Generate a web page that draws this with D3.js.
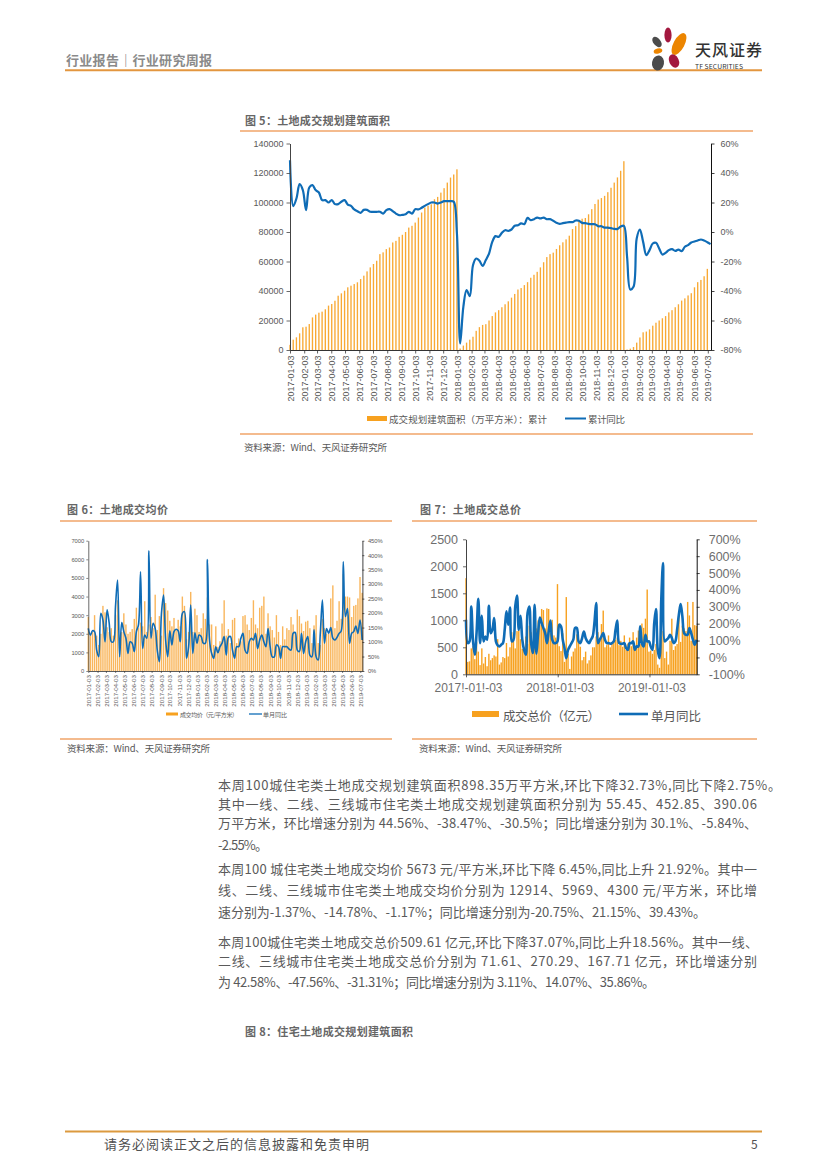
<!DOCTYPE html>
<html><head><meta charset="utf-8">
<script src="https://cdn.jsdelivr.net/npm/d3@7"></script>
<style>html,body{margin:0;padding:0;background:#fff}svg{display:block}
text{font-family:"Liberation Sans","Noto Sans CJK SC",sans-serif}
.cjk{font-family:"Noto Sans CJK SC",sans-serif}</style></head><body><div id="c"></div>
<script>
// ---- tick labels
const monthLabels=["2017-01-03","2017-02-03","2017-03-03","2017-04-03","2017-05-03","2017-06-03","2017-07-03","2017-08-03","2017-09-03","2017-10-03","2017-11-03","2017-12-03","2018-01-03","2018-02-03","2018-03-03","2018-04-03","2018-05-03","2018-06-03","2018-07-03","2018-08-03","2018-09-03","2018-10-03","2018-11-03","2018-12-03","2019-01-03","2019-02-03","2019-03-03","2019-04-03","2019-05-03","2019-06-03","2019-07-03"];
const yearLabels=["2017-01-03","2018-01-03","2019-01-03"];
const pctTicks5=[60,40,20,0,-20,-40,-60,-80];
const areaTicks=[0,20000,40000,60000,80000,100000,120000,140000];
const priceTicks=[0,1000,2000,3000,4000,5000,6000,7000];
const pctTicks6=[0,50,100,150,200,250,300,350,400,450];
const totalTicks=[0,500,1000,1500,2000,2500];
const pctTicks7=[-100,0,100,200,300,400,500,600,700];
// ---- Fig.5 cumulative planned floor area (weekly)
const areaCum=[3500,7000,8600,11300,15400,15800,17600,22100,24000,25300,26000,27600,30100,31200,33400,36800,38400,40200,42500,43600,44700,45900,48100,50400,53300,56000,58300,60500,65000,66200,68400,69500,72900,74000,76700,78100,80000,83000,84200,86400,89800,93200,96600,97800,98800,102200,103800,106700,109700,113500,116900,119000,122500,
1000,3000,5000,7000,9000,13000,15500,17000,17500,20000,23000,25500,27000,29000,31000,33000,35500,38000,41000,42000,44000,46000,49000,51000,53000,56000,59500,63000,65000,66000,68500,71000,73000,75000,77500,82000,84000,87500,89000,89500,92000,95500,99000,102000,103000,104500,107000,110000,113500,117000,121500,128000,
300,900,2000,5000,8500,12000,12500,14000,16500,18500,20000,21500,23000,25500,27000,29000,31000,33500,35000,37000,38500,42500,46000,47500,50000,55000];
const areaYoY=[48.7,17.5,22.7,32.4,28.4,14.8,30.2,31.8,28.4,26.8,21.6,21.6,20,21.6,18.9,18.9,20.5,21.6,18.6,17.7,15.3,14.1,13,15,15,13.7,13.7,13.7,13.7,12.5,14.8,15.5,14.1,12.5,11.4,11.6,12,13.7,12.5,15.5,15.3,16.4,17.7,18.9,20,20,19.3,20,20.9,20.9,20.9,20.5,-1,-75.6,-50.7,-39.4,-43.5,-22.5,-18,-19.5,-23,-19,-14.6,-6.7,-2.8,-3.3,-0.6,1.2,0.8,1.7,4.2,4.6,5.8,5.3,9.6,8,8.7,9.8,9.2,9.8,8.7,8.7,7.6,6.2,5.5,6,6.4,6.7,6.7,7.8,7.6,6.2,6,5.5,5.3,5.3,3.9,3.9,3,3,2.6,2.1,2.1,3.7,4.2,-16.8,-39,-37.2,-4.4,1.7,-6.7,-15.7,-12.3,-7.8,-7.3,-11.2,-15.3,-14.1,-12.3,-11.6,-12.8,-11.9,-13,-10,-8.9,-7.1,-6.4,-5.8,-5.1,-5.8,-6.9,-8.2];
// ---- Fig.6 average price
const avgPrice=[2900,1900,2100,3000,1900,1400,2000,3500,3150,2350,2100,2300,1900,3000,3800,1700,2100,3100,2500,2000,2100,2250,2800,3400,2300,2600,2400,3750,2100,2500,2900,2300,4100,2200,2950,1900,4450,3650,3250,2700,2400,2850,2200,2750,2400,4000,3500,1700,2100,4250,2100,3350,3000,2100,2300,3100,2800,3950,2500,2500,1400,2400,1300,1600,2550,3800,1900,2250,1500,2750,2850,1500,1750,1600,2950,3000,2500,2200,2850,3800,2500,2300,3400,3500,4000,2000,3100,2400,2200,1800,3000,2100,1400,2400,1700,2300,2200,2900,2500,2100,3300,2950,2550,2150,2650,2700,2300,1500,2450,3000,1500,1400,2800,2300,2000,2000,3900,4600,2300,2700,3750,2800,5200,4000,4000,3950,2900,3500,3550,3900,5050,4200];
const avgPriceYoY=[147,124,139,136,72,49,199,176,101,211,165,101,101,222,314,49,167,136,113,61,101,96,67,136,159,343,78,124,113,415,113,165,147,72,32,199,262,107,49,139,90,136,144,139,101,199,205,44,84,228,61,132,96,124,119,96,96,385,107,61,44,84,63,84,96,119,55,116,119,72,44,84,84,113,130,72,61,101,113,107,130,78,107,124,101,84,147,84,49,49,90,84,44,84,84,84,76,72,130,133,72,67,130,61,101,119,55,49,142,49,38,130,245,96,147,130,150,113,107,116,130,138,377,188,216,96,130,136,155,130,176,107];
// ---- Fig.7 total price
const totalPrice=[1780,230,240,480,520,280,600,420,170,480,200,320,150,380,260,300,350,330,650,180,220,320,300,580,330,500,780,650,480,800,830,650,470,500,700,560,900,780,420,560,850,1000,920,1210,1190,850,1220,1210,760,1010,720,680,1670,520,430,760,230,1430,380,100,330,420,480,740,640,510,260,320,420,200,260,350,500,500,700,780,620,930,1180,500,540,720,500,560,600,640,680,540,620,510,720,450,570,680,520,780,460,680,810,560,940,860,1030,1570,420,440,380,450,560,180,120,700,800,300,420,180,620,1030,450,520,560,1120,600,900,850,800,1340,1090,620,1340,910,900];
const totalYoY=[223,85,95,302,95,16,144,348,85,247,95,124,105,306,144,164,233,95,71,65,75,85,164,273,194,296,95,105,302,366,164,247,105,45,16,263,302,85,26,312,22,144,237,204,174,144,85,154,219,105,85,85,95,194,184,105,55,-4,45,65,85,105,174,174,95,85,115,154,115,95,85,105,124,204,322,85,105,124,144,105,85,85,81,85,95,164,219,85,81,81,85,55,45,85,85,95,45,65,65,184,85,65,134,95,95,65,45,204,287,45,-4,342,559,95,105,115,134,115,85,95,164,253,316,243,144,134,134,174,144,105,75,105];
// ---- text
const para=[
 ["本周100城住宅类土地成交规划建筑面积898.35万平方米,环比下降32.73%,同比下降2.75%。",784,563],
 ["其中一线、二线、三线城市住宅类土地成交规划建筑面积分别为 55.45、452.85、390.06",803,539],
 ["万平方米，环比增速分别为 44.56%、-38.47%、-30.5%；同比增速分别为 30.1%、-5.84%、",822,539],
 ["-2.55%。",844,50],
 ["本周100 城住宅类土地成交均价 5673 元/平方米,环比下降 6.45%,同比上升 21.92%。其中一",868,539],
 ["线、二线、三线城市住宅类土地成交均价分别为 12914、5969、4300 元/平方米，环比增",889,539],
 ["速分别为-1.37%、-14.78%、-1.17%；同比增速分别为-20.75%、21.15%、39.43%。",911,488],
 ["本周100城住宅类土地成交总价509.61 亿元,环比下降37.07%,同比上升18.56%。其中一线、",941,540],
 ["二线、三线城市住宅类土地成交总价分别为 71.61、270.29、167.71 亿元，环比增速分别",960,539],
 ["为 42.58%、-47.56%、-31.31%；同比增速分别为 3.11%、14.07%、35.86%。",981,437]];

const W=827,H=1170,ORANGE="#f7a11f",BLUE="#0f6cb6",RULE="#f0a469",GREY="#595959";
const svg=d3.select("#c").append("svg").attr("width",W).attr("height",H).attr("viewBox",`0 0 ${W} ${H}`);
const parse=d3.utcParse("%Y-%m-%d");
const start=parse("2017-01-03"),end=parse("2019-07-10");
const weeks=d3.range(132).map(i=>d3.utcDay.offset(start,7*i));
const hline=(x1,x2,y,c,w)=>svg.append("line").attr("x1",x1).attr("x2",x2).attr("y1",y).attr("y2",y).attr("stroke",c).attr("stroke-width",w);
const label=(x,y,t,o={})=>{const e=svg.append("text").attr("x",x).attr("y",y).attr("dominant-baseline","central").attr("class","cjk").attr("font-size",o.size||11).attr("fill",o.fill||GREY).attr("font-weight",o.weight||400).text(t);if(o.len)e.attr("textLength",o.len).attr("lengthAdjust","spacing");return e;};

function chart(o){
 const x=d3.scaleUtc().domain([start,end]).range([o.x0,o.x1]);
 const yL=d3.scaleLinear().domain(o.leftDom).range([o.y0,o.y1]);
 const yR=d3.scaleLinear().domain(o.rightDom).range([o.y0,o.y1]);
 const g=svg.append("g");
 g.append("g").selectAll("rect").data(o.bars).join("rect")
  .attr("x",(d,i)=>x(weeks[i])-o.barW/2).attr("width",o.barW)
  .attr("y",d=>yL(d)).attr("height",d=>o.y0-yL(d)).attr("fill",o.barColor||ORANGE);
 const line=d3.line().x((d,i)=>x(weeks[i])).y(d=>yR(d)).curve(d3.curveCatmullRom.alpha(0.5));
 g.append("path").datum(o.line).attr("d",line).attr("fill","none").attr("stroke",BLUE).attr("stroke-width",o.lineW).attr("stroke-linejoin","round");
 const style=(a,col,fs)=>{a.select(".domain").attr("stroke",col).attr("stroke-width",o.axisW);a.selectAll(".tick line").attr("stroke",col).attr("stroke-width",o.axisW*.8);a.selectAll("text").attr("fill",o.tickColor||GREY).attr("font-size",fs).attr("font-family","Liberation Sans");};
 const la=g.append("g").attr("transform",`translate(${o.x0},0)`).call(d3.axisLeft(yL).tickValues(o.leftTicks).tickSize(o.tick).tickSizeOuter(0).tickPadding(o.padL).tickFormat(d3.format("d")));
 style(la,"#444",o.fs);
 const ra=g.append("g").attr("transform",`translate(${o.x1},0)`).call(d3.axisRight(yR).tickValues(o.rightTicks).tickSize(o.tick).tickSizeOuter(0).tickPadding(o.padR).tickFormat(d=>d+"%"));
 style(ra,"#111",o.fs);
 const xa=g.append("g").attr("transform",`translate(0,${o.y0})`).call(d3.axisBottom(x).tickValues(o.xLabels.map(parse)).tickSize(o.tick).tickSizeOuter(0).tickFormat(o.xFormat));
 style(xa,"#333",o.xfs||o.fs);
 if(o.rotate){xa.selectAll(".tick text").attr("transform",`rotate(-90)`).attr("text-anchor","end").attr("x",-o.tick-2).attr("y",0).attr("dy","0.35em").attr("dominant-baseline",null);}
 else xa.selectAll(".tick text").attr("dy",o.xdy).attr("dx",o.xdx||0);
}
const fmtD=d3.utcFormat("%Y-%m-%d"),fmtB=d3.utcFormat("%Y!-%m!-%d");

// page header
label(66,59,"行业报告｜行业研究周报",{size:13,fill:"#8a8a8a",weight:700,len:146});
hline(65,762,70.3,"#e3963f",2);
const logo=[[668,35,3.6,7.5,0,"#a3183f"],[679,44,5.5,12,28,"#ec8500"],[657,42,3.6,6,-40,"#4b4b4b"],[658,51,4.4,2.6,-15,"#ec8500"],[658,63,6,7.5,10,"#4b4b4b"],[674,61,4.8,7,-25,"#a3183f"]];
svg.append("g").selectAll("ellipse").data(logo).join("ellipse").attr("rx",d=>d[2]).attr("ry",d=>d[3]).attr("fill",d=>d[5]).attr("transform",d=>`translate(${d[0]},${d[1]}) rotate(${d[4]})`);
label(695,48.5,"天风证券",{size:16,fill:"#333",weight:500,len:67});
label(695,65.5,"TF SECURITIES",{size:6.8,fill:"#333",len:48});

// fig 5
label(245,120,"图 5：土地成交规划建筑面积",{size:11,weight:700,fill:"#666",len:145});
hline(240,753,131,RULE,1.3);
chart({x0:290,x1:711,y0:350,y1:143.5,leftDom:[0,140000],rightDom:[-80,60],bars:areaCum,line:areaYoY,barW:1.35,barColor:"#f8a934",lineW:2.2,axisW:1,tick:3.5,padL:3,padR:6,fs:9,leftTicks:areaTicks,rightTicks:pctTicks5,xLabels:monthLabels,xFormat:fmtD,rotate:true});
svg.append("rect").attr("x",367).attr("y",416).attr("width",20).attr("height",5).attr("fill",ORANGE);
label(389,418.5,"成交规划建筑面积（万平方米）：累计",{size:9.5,len:158});
hline(565,586,418.5,BLUE,2);
label(588,418.5,"累计同比",{size:9.5,len:37});
hline(240,753,434,RULE,1.3);
label(244,447,"资料来源：Wind、天风证券研究所",{size:9.5,len:143});

// fig 6
label(67,509,"图 6：土地成交均价",{size:11,weight:700,fill:"#666",len:101});
hline(60,392,521,RULE,1.6);
chart({x0:88.3,x1:362.4,y0:671,y1:540.7,leftDom:[0,7000],rightDom:[0,450],bars:avgPrice,line:avgPriceYoY,barW:1.4,barColor:"#f9b65c",lineW:1.6,axisW:.8,tick:2,padL:2,padR:3.5,fs:5.8,xfs:6.2,leftTicks:priceTicks,rightTicks:pctTicks6,xLabels:monthLabels,xFormat:fmtD,rotate:true});
svg.append("rect").attr("x",166).attr("y",712.5).attr("width",12).attr("height",3).attr("fill",ORANGE);
label(180,714,"成交均价（元/平方米）",{size:6,len:58});
hline(249,262,714,BLUE,1.3);
label(263,714,"单月同比",{size:6,len:24});
hline(60,392,739,RULE,1.6);
label(67,748,"资料来源：Wind、天风证券研究所",{size:9.5,len:143});

// fig 7
label(420,509,"图 7：土地成交总价",{size:11,weight:700,fill:"#666",len:101});
hline(412,757,521,RULE,1.6);
chart({x0:466,x1:696.7,y0:674.3,y1:539.3,leftDom:[0,2500],rightDom:[-100,700],bars:totalPrice,line:totalYoY,barW:1.4,lineW:2.6,axisW:1,tick:3,padL:5,padR:9,fs:12.5,xfs:12,tickColor:"#6e6e6e",leftTicks:totalTicks,rightTicks:pctTicks7,xLabels:yearLabels,xFormat:fmtB,rotate:false,xdy:"1.0em",xdx:"2"});
svg.append("rect").attr("x",472).attr("y",711).attr("width",27).attr("height",6).attr("fill",ORANGE);
label(503,715,"成交总价（亿元）",{size:12.5,len:97});
hline(619,648,714,BLUE,2.6);
label(651,715,"单月同比",{size:12.5,len:50});
hline(412,757,739,RULE,1.6);
label(419,748,"资料来源：Wind、天风证券研究所",{size:9.5,len:143});

// body
svg.append("g").selectAll("text").data(para).join("text").attr("class","cjk").attr("x",218).attr("y",d=>d[1]).attr("dominant-baseline","central").attr("font-size",13).attr("fill","#5a5a5a").attr("textLength",d=>d[2]).attr("lengthAdjust","spacing").text(d=>d[0]);
label(245,1031,"图 8：住宅土地成交规划建筑面积",{size:11,weight:700,fill:"#666",len:168});

// footer
hline(65,762,1131.5,"#dc9a3f",1.8);
label(104,1143,"请务必阅读正文之后的信息披露和免责申明",{size:13,fill:"#505050",len:265});
label(751,1143,"5",{size:12,fill:"#505050"});
</script></body></html>
